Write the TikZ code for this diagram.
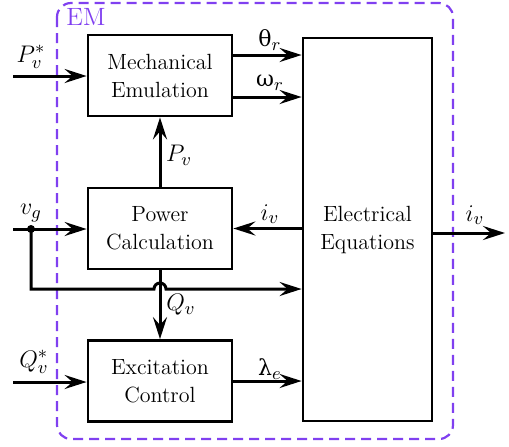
\documentclass[tikz,border=0pt]{standalone}
\usepackage{fontspec}
\newfontfamily\grk{DejaVu Serif}
\usetikzlibrary{arrows.meta,calc}
\definecolor{emviolet}{RGB}{128,64,240}
\begin{document}
\begin{tikzpicture}[x=0.5pt,y=-0.5pt,
  font=\rmfamily\fontsize{11}{14}\selectfont,
  blk/.style={draw,line width=1.4pt,rectangle,align=center,minimum width=72pt,minimum height=40.5pt,inner sep=0pt},
  arr/.style={line width=1.5pt,-{Stealth[length=11pt,width=7pt,inset=4pt]}},
  lbl/.style={inner sep=0pt,font=\rmfamily\fontsize{12.5}{14}\selectfont}]
\useasboundingbox (0,0) rectangle (509,446);
% EM frame
\draw[emviolet,line width=1.1pt,dash pattern=on 5pt off 3pt,rounded corners=7pt] (57,3) rectangle (453,439);
\node[lbl,anchor=west,text=emviolet] (em) at (66,17) {EM};
% blocks
\node[blk] (mech) at (160,75.5) {Mechanical\\Emulation};
\node[blk] (pow) at (160,228.5) {Power\\Calculation};
\node[blk] (exc) at (160,381) {Excitation\\Control};
\node[blk,minimum width=64.5pt,minimum height=191.5pt] (ee) at (367.5,229.5) {Electrical\\Equations};
% inputs
\coordinate (pin) at (13,76);
\coordinate (vin) at (13,229);
\coordinate (qin) at (13,382);
\coordinate (jn) at (31,229);
\coordinate (jd) at (31,289);
\coordinate (out) at (505,233);
\draw[arr] (pin) -- (pin -| mech.west);
\draw[arr] (vin) -- (vin -| pow.west);
\draw[arr] (qin) -- (qin -| exc.west);
\fill (jn) circle (2pt);
% mech outputs
\path ([yshift=10.25pt]mech.east) coordinate (t1);
\path ([yshift=-10.75pt]mech.east) coordinate (t2);
\draw[arr] (t1) -- (t1 -| ee.west);
\draw[arr] (t2) -- (t2 -| ee.west);
% P_v
\draw[arr] (pow.north) -- (mech.south);
% i_v back
\draw[arr] (pow.east -| ee.west) -- (pow.east);
% Q_v
\draw[arr] (pow.south) -- (exc.north);
% lambda_e
\draw[arr] (exc.east) -- (exc.east -| ee.west);
% v_g branch with hop
\draw[arr] (jn) -- (jd) -- ($(jd -| pow.south)+(-6,0)$) arc[start angle=180,end angle=0,radius=3pt] -- (jd -| ee.west);
% output
\draw[arr] (ee.east |- out) -- (out);
% labels
\node[lbl] (lpv) at (31,57) {$P_v^*$};
\node[lbl] (lth) at (270,40) {{\grk\fontsize{11}{14}\selectfont θ}$_r$};
\node[lbl] (lom) at (270,83) {{\grk\fontsize{11}{14}\selectfont ω}$_r$};
\node[lbl] (lp) at (179,155) {$P_v$};
\node[lbl] (lvg) at (31,213) {$v_g$};
\node[lbl] (liv) at (270,214) {$i_v$};
\node[lbl] (lq) at (181,305) {$Q_v$};
\node[lbl] (lqs) at (34,362) {$Q_v^*$};
\node[lbl] (lla) at (270,369) {{\grk\fontsize{11}{14}\selectfont λ}$_e$};
\node[lbl] (lout) at (475,215) {$i_v$};
\end{tikzpicture}
\end{document}
